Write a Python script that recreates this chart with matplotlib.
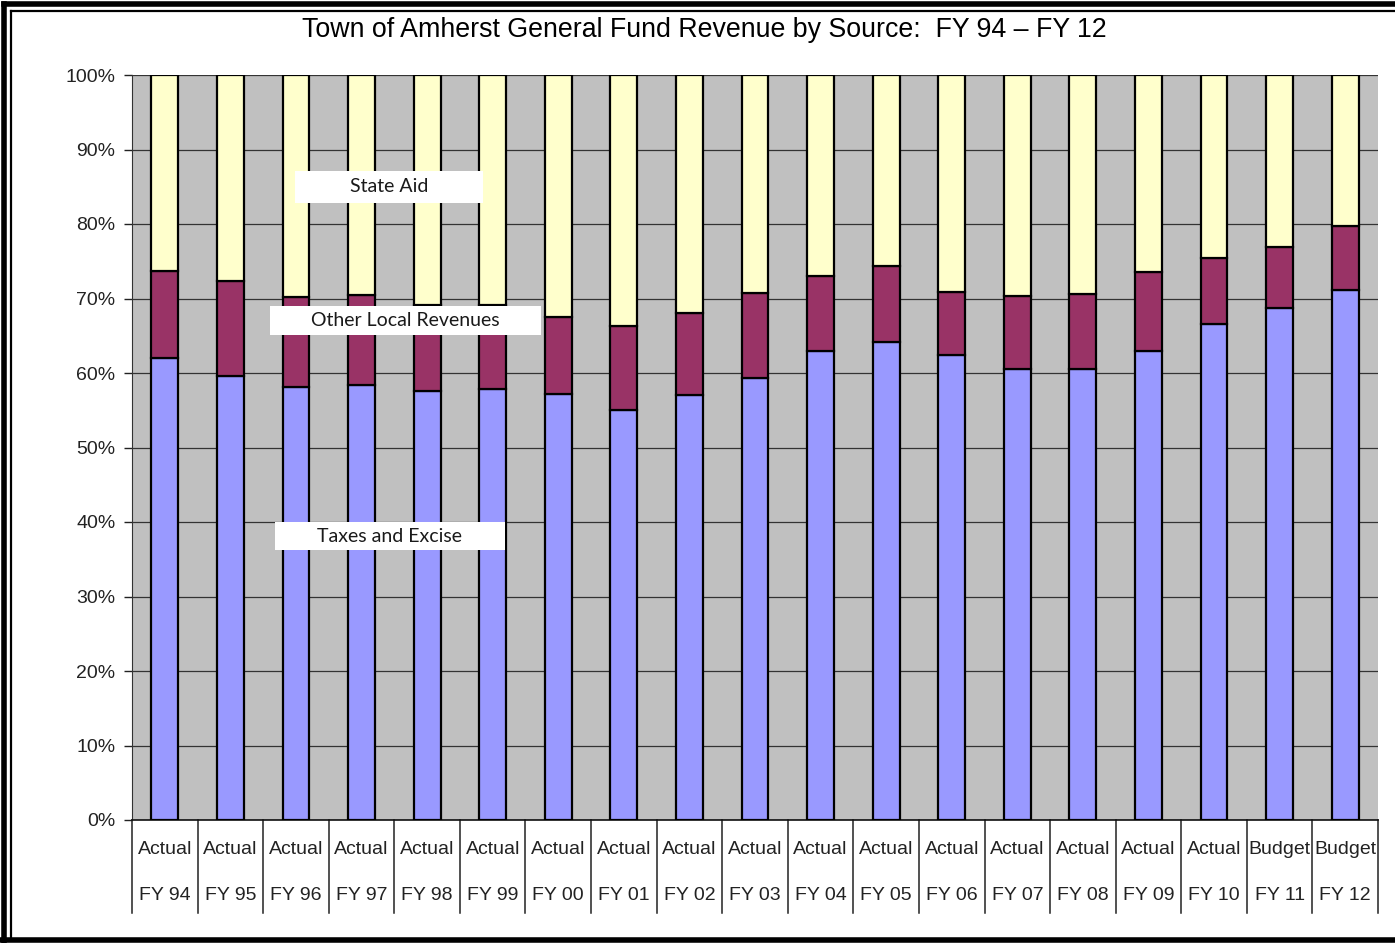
import matplotlib
matplotlib.use("Agg")
import matplotlib.pyplot as plt
from matplotlib.lines import Line2D
from matplotlib.patches import Rectangle
import numpy as np

plt.rcParams["font.family"] = ["Liberation Sans", "DejaVu Sans"]

# Fiscal years and status
status = ["Actual"] * 17 + ["Budget"] * 2
years = ["FY 94", "FY 95", "FY 96", "FY 97", "FY 98", "FY 99", "FY 00", "FY 01",
         "FY 02", "FY 03", "FY 04", "FY 05", "FY 06", "FY 07", "FY 08", "FY 09",
         "FY 10", "FY 11", "FY 12"]

# Share of general fund revenue (%)
taxes_excise = [62.0, 59.6, 58.1, 58.4, 57.6, 57.8, 57.2, 55.0, 57.0, 59.3,
                62.9, 64.2, 62.4, 60.6, 60.5, 62.9, 66.6, 68.7, 71.2]
other_local = [11.7, 12.7, 12.1, 12.1, 11.5, 11.3, 10.3, 11.3, 11.1, 11.5,
               10.1, 10.2, 8.5, 9.7, 10.1, 10.6, 8.8, 8.2, 8.5]
state_aid = [26.3, 27.7, 29.8, 29.5, 30.9, 30.9, 32.5, 33.7, 31.9, 29.2,
             27.0, 25.6, 29.1, 29.7, 29.4, 26.5, 24.6, 23.1, 20.3]

W, H = 1395, 943
fig = plt.figure(figsize=(W / 100, H / 100), dpi=100)
fig.patch.set_facecolor("white")

def fx(px):
    return px / W

def fy(py):
    return 1 - py / H

ax = fig.add_axes([fx(132), fy(820), fx(1378) - fx(132), fy(75) - fy(820)])
ax.set_facecolor("#C0C0C0")

x = np.arange(len(years))
bw = 0.41
edge = dict(edgecolor="black", linewidth=1.6)
ax.bar(x, taxes_excise, bw, color="#9999FF", zorder=3, **edge)
ax.bar(x, other_local, bw, bottom=taxes_excise, color="#993366", zorder=3, **edge)
bottom2 = np.array(taxes_excise) + np.array(other_local)
ax.bar(x, state_aid, bw, bottom=bottom2, color="#FFFFCC", zorder=3, **edge)

ax.set_xlim(-0.5, len(years) - 0.5)
ax.set_ylim(0, 100)
ax.set_yticks(np.arange(0, 101, 10))
ax.set_yticklabels([f"{v}%" for v in range(0, 101, 10)], fontsize=14, color="#222222")
ax.yaxis.grid(True, color="#333333", linewidth=0.9, zorder=1)
ax.set_axisbelow(True)
ax.tick_params(axis="y", length=6, width=1, color="#222222", pad=6)

ax.set_xticks([])
for s in ["top", "right"]:
    ax.spines[s].set_visible(False)
ax.spines["left"].set_color("#333333")
ax.spines["bottom"].set_color("#111111")
ax.spines["bottom"].set_linewidth(1.2)

# Category divider ticks and two-line labels below the axis
trans = ax.get_xaxis_transform()
drop = (820 - 913) / (820 - 75)
for b in np.arange(-0.5, len(years), 1.0):
    ax.add_line(Line2D([b, b], [0, drop], transform=trans, color="#222222",
                       linewidth=1.1, clip_on=False))
y1 = (820 - 850) / (820 - 75)
y2 = (820 - 895) / (820 - 75)
for i in x:
    ax.text(i, y1, status[i], transform=trans, ha="center", va="center",
            fontsize=14, color="#222222")
    ax.text(i, y2, years[i], transform=trans, ha="center", va="center",
            fontsize=14, color="#222222")

# Series labels in white boxes
labels = [("State Aid", 295, 171, 483, 203, 389, 187),
          ("Other Local Revenues", 270, 306, 541, 335, 405, 320),
          ("Taxes and Excise", 275, 522, 505, 550, 390, 537)]
for txt, x0, y0, x1, y1b, tx, ty in labels:
    fig.patches.append(Rectangle((fx(x0), fy(y1b)), fx(x1) - fx(x0), fy(y0) - fy(y1b),
                                 transform=fig.transFigure, facecolor="white",
                                 edgecolor="none", zorder=5))
    fig.text(fx(tx), fy(ty), txt, ha="center", va="center", fontsize=14,
             family=["Lato", "DejaVu Sans"], color="#1a1a1a", zorder=6)

fig.text(fx(704), fy(30), "Town of Amherst General Fund Revenue by Source:  FY 94 \u2013 FY 12",
         ha="center", va="center", fontsize=19.3, color="black")

# Frame around the chart
frame = [
    ([fx(4), fx(4)], [fy(4), fy(941)], 4.0),
    ([fx(4), fx(1395)], [fy(4), fy(4)], 4.0),
    ([fx(11), fx(11)], [fy(11), fy(939)], 1.6),
    ([fx(11), fx(1395)], [fy(11), fy(11)], 1.6),
    ([fx(0), fx(1395)], [fy(940), fy(940)], 4.0),
]
for xs, ys, lw in frame:
    fig.lines.append(Line2D(xs, ys, transform=fig.transFigure, color="black", linewidth=lw))

fig.savefig("out.png", dpi=100, facecolor="white")
